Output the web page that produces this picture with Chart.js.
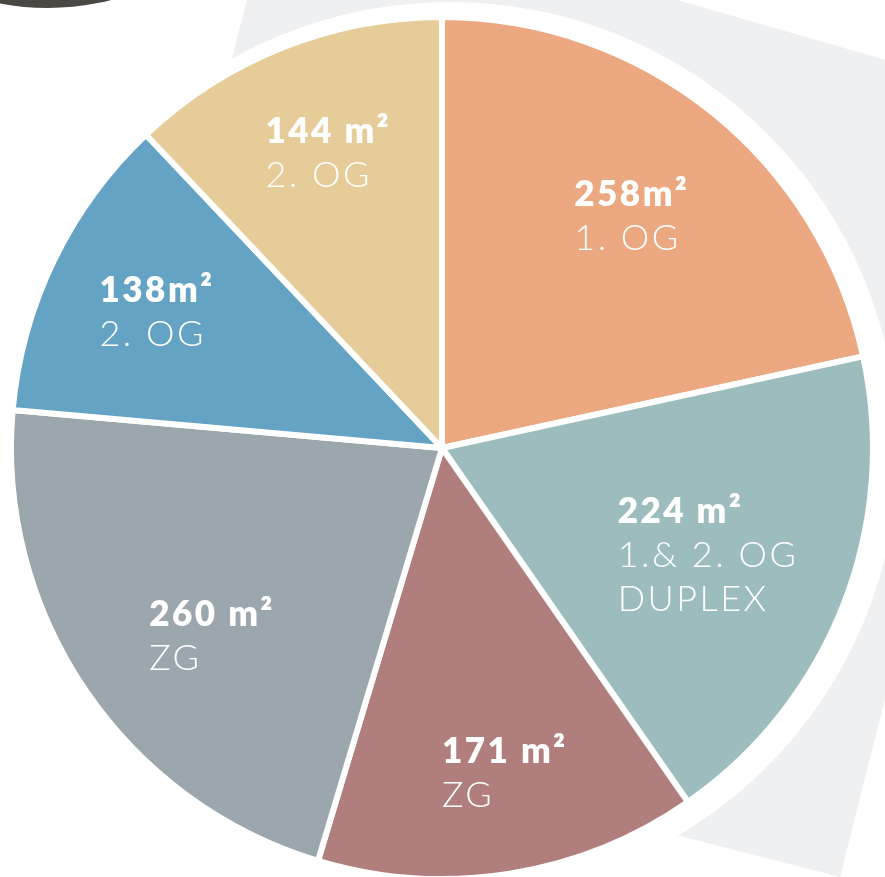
<!DOCTYPE html>
<html><head><meta charset="utf-8">
<script src="https://cdn.jsdelivr.net/npm/chart.js@4/dist/chart.umd.min.js"></script>
<style>html,body{margin:0;padding:0;background:#fff;overflow:hidden}#wrap{width:885px;height:877px;position:relative}</style>
</head><body><div id="wrap"><canvas id="c" width="885" height="877"></canvas></div>
<script>
// ---- data ----
const areaValues = [258, 224, 171, 260, 138, 144];
const valueLabels = ['258m²', '224 m²', '171 m²', '260 m²', '138m²', '144 m²'];
const floorLabels = [['1. OG'], ['1.& 2. OG', 'DUPLEX'], ['ZG'], ['ZG'], ['2. OG'], ['2. OG']];
const sliceColors = ['#eca880', '#9dbcbd', '#b07e7c', '#9ba6ad', '#64a3c4', '#e5cc99'];

// ---- label placement (style, not data) ----
const labelRadiusFrac = [0.697, 0.665, 0.766, 0.688, 0.733, 0.734];
const labelAngleNudgeDeg = [0.3, 0.4, -1.9, -5.0, -0.3, 0.6];
const BOLD_FONT = '800 35px Lato, "Open Sans", sans-serif';
const LIGHT_FONT = '300 36px Lato, "Open Sans", sans-serif';
const BOLD_SPACING = '2.5px';
const LIGHT_SPACING = '2.5px';
const LINE_GAP = 44;
const CAP = 25;

const backdrop = {
  id: 'backdrop',
  beforeDraw(chart) {
    const ctx = chart.ctx;
    ctx.save();
    ctx.fillStyle = '#ffffff';
    ctx.fillRect(0, 0, chart.width, chart.height);
    ctx.fillStyle = '#eff0f2';
    ctx.beginPath();
    ctx.moveTo(277, -115); ctx.lineTo(1036, 103); ctx.lineTo(840, 877);
    ctx.lineTo(300, 739); ctx.lineTo(143, 400); ctx.closePath();
    ctx.fill();
    ctx.fillStyle = '#4b4742';
    ctx.beginPath(); ctx.arc(48, -247, 255, 0, Math.PI * 2); ctx.fill();
    ctx.restore();
  },
  beforeDatasetsDraw(chart) {
    const arc = chart.getDatasetMeta(0).data[0];
    if (!arc) return;
    const ctx = chart.ctx;
    ctx.save();
    ctx.fillStyle = '#ffffff';
    ctx.beginPath();
    ctx.arc(arc.x + 8, arc.y + 2, arc.outerRadius + 17, 0, Math.PI * 2);
    ctx.fill();
    ctx.restore();
  },
  afterDatasetsDraw(chart) {
    const ctx = chart.ctx;
    const meta = chart.getDatasetMeta(0);
    ctx.save();
    ctx.fillStyle = '#ffffff';
    ctx.textAlign = 'left';
    ctx.textBaseline = 'alphabetic';
    meta.data.forEach((arc, i) => {
      const mid = (arc.startAngle + arc.endAngle) / 2 + labelAngleNudgeDeg[i] * Math.PI / 180;
      const r = arc.outerRadius * labelRadiusFrac[i];
      const bx = arc.x + Math.cos(mid) * r;
      const by = arc.y + Math.sin(mid) * r;
      const lines = [{t: valueLabels[i], f: BOLD_FONT, s: BOLD_SPACING}]
        .concat(floorLabels[i].map(t => ({t, f: LIGHT_FONT, s: LIGHT_SPACING})));
      let w = 0;
      lines.forEach(l => { ctx.font = l.f; ctx.letterSpacing = l.s; w = Math.max(w, ctx.measureText(l.t).width); });
      const h = CAP + (lines.length - 1) * LINE_GAP;
      const x0 = bx - w / 2;
      let y = by - h / 2 + CAP;
      lines.forEach(l => { ctx.font = l.f; ctx.letterSpacing = l.s; ctx.fillText(l.t, x0, y); y += LINE_GAP; });
    });
    ctx.restore();
  }
};

new Chart(document.getElementById('c'), {
  type: 'pie',
  data: {
    labels: valueLabels,
    datasets: [{
      data: areaValues,
      backgroundColor: sliceColors,
      borderColor: '#ffffff',
      borderWidth: 6,
      radius: 431
    }]
  },
  options: {
    responsive: false,
    animation: false,
    layout: { padding: { top: 19, bottom: 0, left: 0, right: 1 } },
    plugins: { legend: { display: false }, tooltip: { enabled: false } }
  },
  plugins: [backdrop]
});
</script>
</body></html>
